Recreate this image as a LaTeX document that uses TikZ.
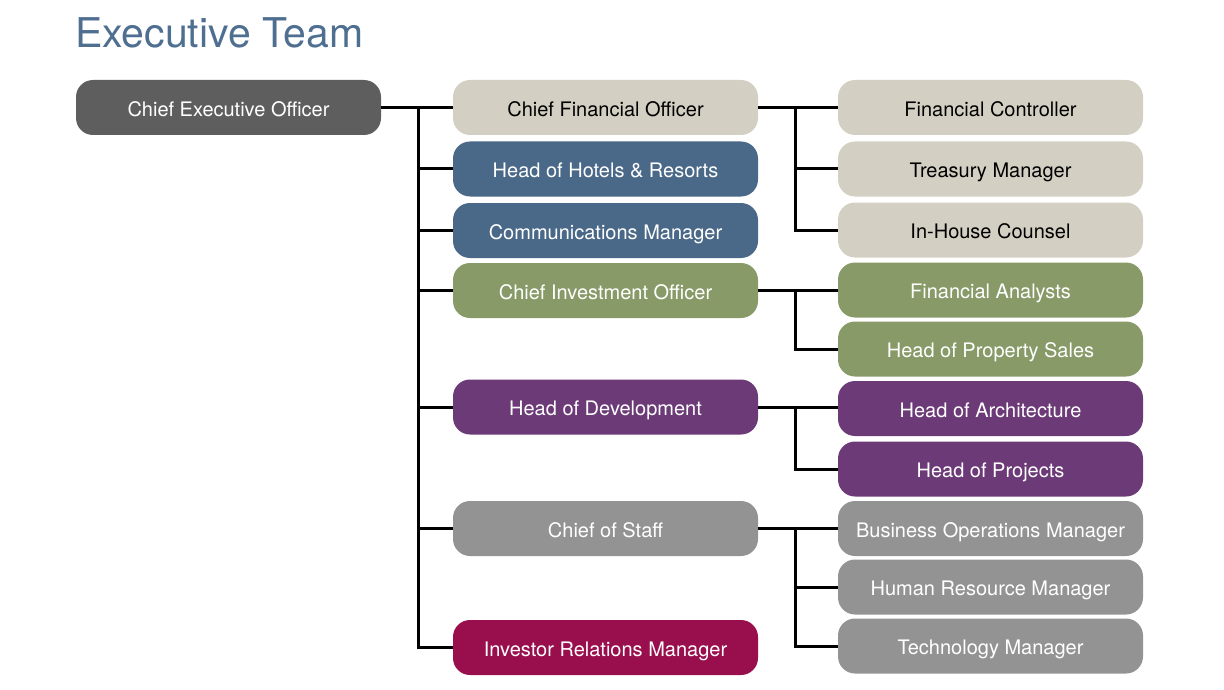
\documentclass[tikz,border=0pt]{standalone}
\usepackage{fontspec}
\setmainfont{TeX Gyre Heros}
\definecolor{ceoC}{HTML}{5E5E5E}
\definecolor{beigeC}{HTML}{D3D0C3}
\definecolor{blueC}{HTML}{4A6888}
\definecolor{greenC}{HTML}{879A67}
\definecolor{purpleC}{HTML}{6B3A77}
\definecolor{grayC}{HTML}{939393}
\definecolor{plumC}{HTML}{990F4D}
\definecolor{titleC}{HTML}{4F6F91}
\tikzset{
  box/.style={rounded corners=17pt, minimum width=305pt, minimum height=55pt, inner sep=0pt, text height=17.5pt, text depth=0pt, font=\fontsize{20}{24}\selectfont, text=white},
  lt/.style={text=black},
  conn/.style={line width=3pt, draw=black},
}
\begin{document}
\begin{tikzpicture}[x=1pt,y=-1pt]
\useasboundingbox (0,0) rectangle (1224,690);
\node[anchor=west, text=titleC, font=\fontsize{41}{48}\selectfont, inner sep=0pt] (title) at (75,33) {Executive Team};
\node[box, fill=ceoC] (ceo) at (228.5,107.5) {Chief Executive Officer};
% middle column
\node[box, fill=beigeC, lt] (cfo) at (605.5,107.5) {Chief Financial Officer};
\node[box, fill=blueC] (hotels) at (605.5,169) {Head of Hotels \& Resorts};
\node[box, fill=blueC] (comms) at (605.5,230.5) {Communications Manager};
\node[box, fill=greenC] (cio) at (605.5,290.5) {Chief Investment Officer};
\node[box, fill=purpleC] (dev) at (605.5,407) {Head of Development};
\node[box, fill=grayC] (cos) at (605.5,528.5) {Chief of Staff};
\node[box, fill=plumC] (irm) at (605.5,647.5) {Investor Relations Manager};
% right column
\node[box, fill=beigeC, lt] (fc) at (990.5,107.5) {Financial Controller};
\node[box, fill=beigeC, lt] (tm) at (990.5,169) {Treasury Manager};
\node[box, fill=beigeC, lt] (ihc) at (990.5,230) {In-House Counsel};
\node[box, fill=greenC] (fa) at (990.5,290) {Financial Analysts};
\node[box, fill=greenC] (hps) at (990.5,349) {Head of Property Sales};
\node[box, fill=purpleC] (ha) at (990.5,408.5) {Head of Architecture};
\node[box, fill=purpleC] (hp) at (990.5,469) {Head of Projects};
\node[box, fill=grayC] (bom) at (990.5,528.5) {Business Operations Manager};
\node[box, fill=grayC] (hrm) at (990.5,587) {Human Resource Manager};
\node[box, fill=grayC] (tech) at (990.5,646) {Technology Manager};
% coordinates for trunks
\coordinate (t0) at (418,0);
\coordinate (t1) at (795,0);
% CEO connectors
\draw[conn] (ceo.east) -- (cfo.west);
\draw[conn] (t0 |- ceo.east) -- (t0 |- irm.west) -- (irm.west);
\foreach \n in {hotels,comms,cio,dev,cos}{
  \draw[conn] (t0 |- \n.west) -- (\n.west);
}
% CFO group
\draw[conn] (cfo.east) -- (fc.west);
\draw[conn] (t1 |- cfo.east) -- (t1 |- ihc.west) -- (ihc.west);
\draw[conn] (t1 |- tm.west) -- (tm.west);
% CIO group
\draw[conn] (cio.east) -- (fa.west |- cio.east);
\draw[conn] (t1 |- cio.east) -- (t1 |- hps.west) -- (hps.west);
% Dev group
\draw[conn] (dev.east) -- (ha.west |- dev.east);
\draw[conn] (t1 |- dev.east) -- (t1 |- hp.west) -- (hp.west);
% CoS group
\draw[conn] (cos.east) -- (bom.west |- cos.east);
\draw[conn] (t1 |- cos.east) -- (t1 |- tech.west) -- (tech.west);
\draw[conn] (t1 |- hrm.west) -- (hrm.west);
\end{tikzpicture}
\end{document}
